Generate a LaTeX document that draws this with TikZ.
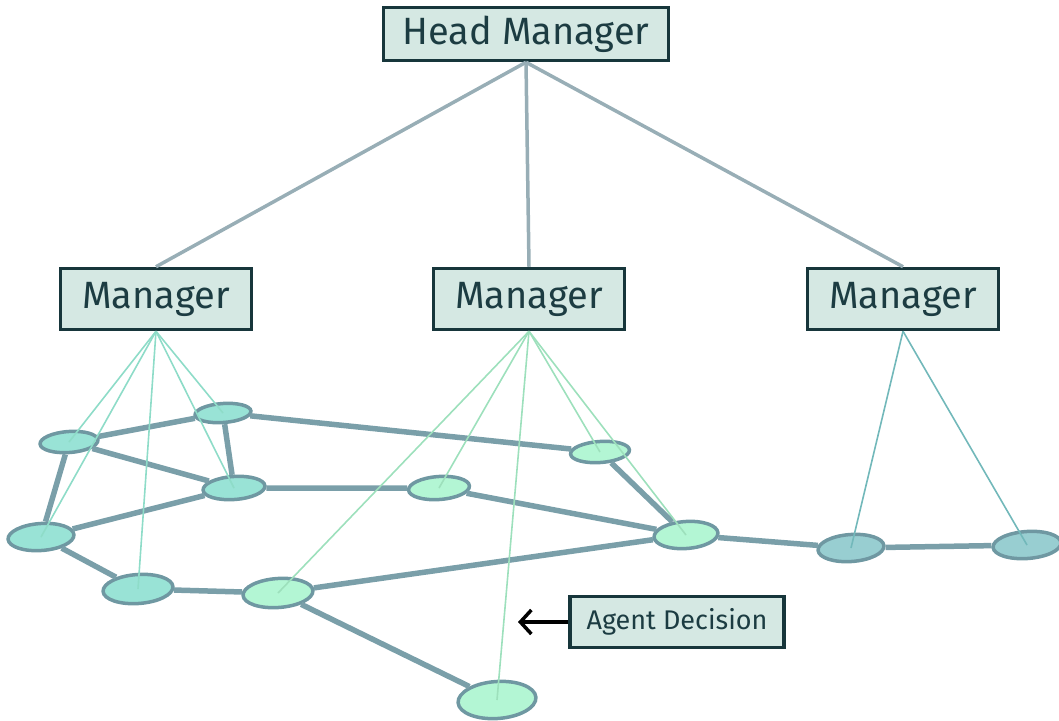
\documentclass[tikz,border=0pt]{standalone}
\usepackage{fontspec}
\setmainfont{Fira Sans}
\usetikzlibrary{shapes.geometric,arrows.meta}
\definecolor{boxfill}{HTML}{D5E8E3}
\definecolor{boxline}{HTML}{17363B}
\definecolor{boxtext}{HTML}{1C3C42}
\definecolor{topline}{HTML}{98AEB6}
\definecolor{edgecol}{HTML}{7A9FA9}
\definecolor{ringcol}{HTML}{6F98A2}
\definecolor{tealfill}{HTML}{99E3D6}
\definecolor{greenfill}{HTML}{B3F6D4}
\definecolor{bluefill}{HTML}{98CED1}
\definecolor{tealwire}{HTML}{8EDCC8}
\definecolor{greenwire}{HTML}{9DE0BC}
\definecolor{bluewire}{HTML}{72B8BA}
\begin{document}
\begin{tikzpicture}[x=1pt,y=-1pt,
  mgr/.style={draw=boxline,fill=boxfill,line width=3.5pt,text=boxtext,
    font=\fontsize{38}{44}\selectfont,inner sep=0pt,
    minimum width=191pt,minimum height=61pt},
  headbox/.style={mgr,minimum width=285pt,minimum height=53pt},
  notebox/.style={mgr,font=\fontsize{27}{32}\selectfont,
    minimum width=214pt,minimum height=51pt},
  agent/.style={ellipse,draw=ringcol,line width=3.5pt,inner sep=0pt,rotate=4},
  teal/.style={agent,fill=tealfill},
  green/.style={agent,fill=greenfill},
  blue/.style={agent,fill=bluefill},
  link/.style={draw=edgecol,line width=5.5pt},
  trunk/.style={draw=topline,line width=3.5pt},
  wire/.style={line width=1.6pt}]
\useasboundingbox (0,0) rectangle (1059,720);

% manager hierarchy
\node[headbox] (head) at (526,34) {Head Manager};
\node[mgr] (m1) at (156,299) {Manager};
\node[mgr] (m2) at (529,299) {Manager};
\node[mgr] (m3) at (903,299) {Manager};

% agents
\node[teal,minimum width=58pt,minimum height=21pt] (a) at (69,442) {};
\node[teal,minimum width=56pt,minimum height=19pt] (b) at (223,413) {};
\node[teal,minimum width=62pt,minimum height=23pt] (c) at (234,488) {};
\node[teal,minimum width=66pt,minimum height=27pt] (d) at (41,537) {};
\node[teal,minimum width=70pt,minimum height=29pt] (e) at (138,589) {};
\node[green,minimum width=70pt,minimum height=29pt] (f) at (278,593) {};
\node[green,minimum width=61pt,minimum height=23pt] (g) at (439,488) {};
\node[green,minimum width=59pt,minimum height=21pt] (h) at (600,452) {};
\node[green,minimum width=64pt,minimum height=27pt] (i) at (686,535) {};
\node[green,minimum width=78pt,minimum height=37pt] (j) at (497,700) {};
\node[blue,minimum width=66pt,minimum height=27pt] (k) at (851,548) {};
\node[blue,minimum width=68pt,minimum height=27pt] (l) at (1027,545) {};

% links between agents, clipped at the agent borders
\foreach \p/\q in {a/b,a/c,a/d,b/c,b/h,c/d,c/g,d/e,e/f,f/i,f/j,g/i,h/i,i/k,k/l}
  \draw[link] (\p) -- (\q);

% hierarchy trunks
\foreach \m in {m1,m2,m3}
  \draw[trunk] (head.south) -- (\m.north);

% manager-to-agent wires
\foreach \t in {a,b,c,d,e}
  \draw[wire,draw=tealwire] (m1.south) -- (\t.center);
\foreach \t in {f,g,h,i,j}
  \draw[wire,draw=greenwire] (m2.south) -- (\t.center);
\foreach \t in {k,l}
  \draw[wire,draw=bluewire] (m3.south) -- (\t.center);

% decision callout
\node[notebox] (note) at (677,622) {Agent Decision};
\coordinate (tip) at (518,622);
\draw[line width=3.5pt,-{Straight Barb[length=11pt,width=24pt]}] (note.west) -- (tip);
\end{tikzpicture}
\end{document}
